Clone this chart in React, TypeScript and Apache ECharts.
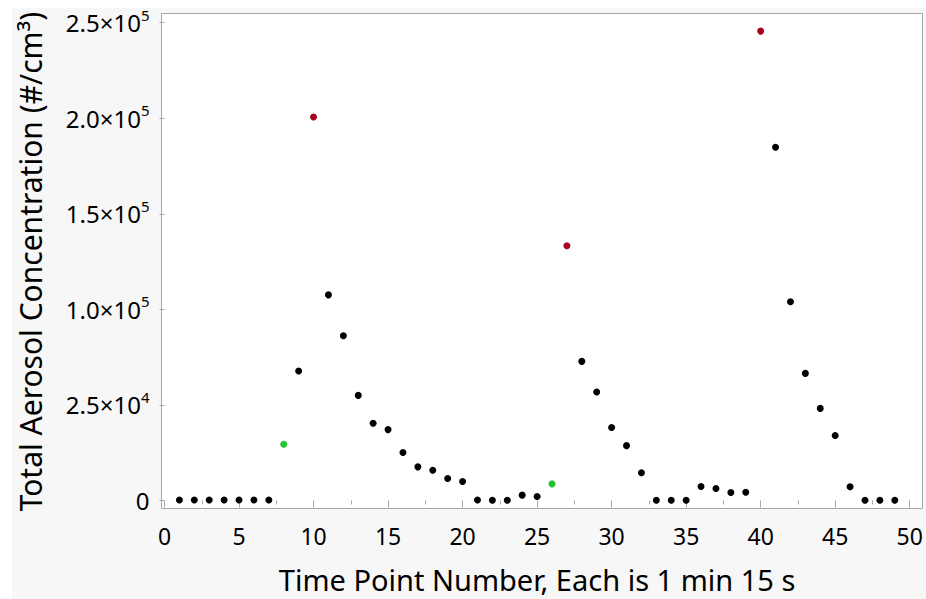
import React, { useEffect, useRef } from "react";
import * as echarts from "echarts";

// Time point numbers (each is 1 min 15 s)
const timePoints = [
  1, 2, 3, 4, 5, 6, 7, 8, 9, 10, 11, 12, 13, 14, 15, 16, 17, 18, 19, 20, 21, 22, 23, 24, 25,
  26, 27, 28, 29, 30, 31, 32, 33, 34, 35, 36, 37, 38, 39, 40, 41, 42, 43, 44, 45, 46, 47, 48, 49,
];
// Total aerosol concentration (#/cm3)
const concentration = [
  300, 300, 300, 300, 300, 300, 300, 29400, 67800, 200700, 107600, 86200, 55000, 40400, 37100,
  25100, 17600, 15800, 11500, 9900, 300, 100, 100, 2800, 2100, 8700, 133300, 72800, 56800, 38200,
  28700, 14500, 100, 100, 100, 7300, 6300, 4200, 4300, 245600, 184800, 104000, 66500, 48200, 34000,
  7200, 100, 100, 100,
];
// Highlighted time points
const peakPoints = [10, 27, 40];
const startPoints = [8, 26];

// Y tick labels (as printed on the original axis)
const yTickMantissa = ["0", "2.5", "1.0", "1.5", "2.0", "2.5"];
const yTickExponent = ["", "4", "5", "5", "5", "5"];
const xTitle = "Time Point Number, Each is 1 min 15 s";
const yTitle = "Total Aerosol Concentration (#/cm\u00b3)";

const BLACK = "#000000";
const RED = "#a8001f";
const GREEN = "#22c530";
const FONT = "Noto Sans";

export default function App() {
  const ref = useRef<HTMLDivElement>(null);
  useEffect(() => {
    if (!ref.current) return;
    const chart = echarts.init(ref.current, undefined, { renderer: "svg" });
    const data = timePoints.map((t, i) => {
      let color = BLACK;
      if (peakPoints.includes(t)) color = RED;
      else if (startPoints.includes(t)) color = GREEN;
      return { value: [t, concentration[i]], itemStyle: { color, opacity: 1 } };
    });
    chart.setOption({
      animation: false,
      backgroundColor: "#ffffff",
      textStyle: { fontFamily: FONT },
      graphic: [
        {
          type: "rect",
          z: -10,
          silent: true,
          shape: { x: 12, y: 8, width: 914, height: 591 },
          style: { fill: "#f7f7f7" },
        },
        {
          type: "rect",
          z: -9,
          silent: true,
          shape: { x: 161.5, y: 13.5, width: 761, height: 495 },
          style: { fill: "#ffffff", stroke: "#a6a6a6", lineWidth: 1 },
        },
      ],
      grid: { left: 164.5, right: 16.3, top: 22.7, bottom: 97, containLabel: false },
      xAxis: {
        type: "value",
        min: 0,
        max: 50,
        interval: 5,
        offset: 6.5,
        name: xTitle,
        nameLocation: "middle",
        nameGap: 58,
        nameTextStyle: { fontSize: 29, color: "#000", fontFamily: FONT },
        axisLine: { show: false },
        axisTick: { show: true, length: 7, lineStyle: { color: "#a6a6a6" } },
        minorTick: { show: true, splitNumber: 2, length: 4, lineStyle: { color: "#a6a6a6" } },
        splitLine: { show: false },
        axisLabel: { fontSize: 23, color: "#000", margin: 17, fontFamily: FONT },
      },
      yAxis: {
        type: "value",
        min: 0,
        max: 250000,
        interval: 50000,
        offset: 3,
        name: yTitle,
        nameLocation: "middle",
        nameRotate: 90,
        nameGap: 116,
        nameTextStyle: { fontSize: 30, color: "#000", fontFamily: FONT },
        axisLine: { show: false },
        axisTick: { show: true, length: 5, lineStyle: { color: "#a6a6a6" } },
        splitLine: { show: false },
        axisLabel: {
          margin: 12,
          formatter: (v: number) => {
            const idx = Math.round(v / 50000);
            if (yTickExponent[idx] === "") return `{m|${yTickMantissa[idx]}}`;
            return `{m|${yTickMantissa[idx]}\u00d710}{e|${yTickExponent[idx]}}`;
          },
          rich: {
            m: { fontSize: 24, color: "#000", fontFamily: FONT },
            e: { fontSize: 15, color: "#000", fontFamily: FONT, padding: [0, 0, 16, 0] },
          },
        },
      },
      series: [
        {
          type: "scatter",
          symbol: "circle",
          symbolSize: 7,
          clip: false,
          z: 5,
          data,
        },
      ],
    });
    return () => chart.dispose();
  }, []);
  return (
    <div style={{ position: "absolute", left: 0, top: 0, width: 926, height: 599 }}>
      <div ref={ref} style={{ width: 926, height: 599 }} />
    </div>
  );
}
